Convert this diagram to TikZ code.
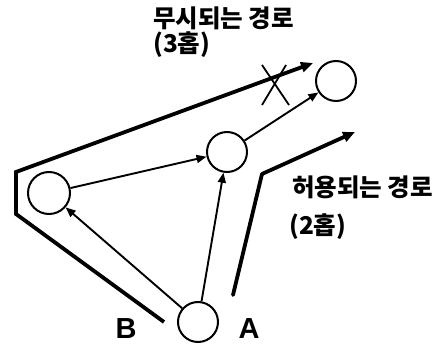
\documentclass[tikz,border=0pt]{standalone}
\usepackage{fontspec}
\setmainfont{Liberation Sans}
\newfontfamily\kr{Noto Sans CJK KR}
\usetikzlibrary{arrows.meta}
\begin{document}
\begin{tikzpicture}[x=1pt,y=-1pt,
  nd/.style={circle,draw,line width=2pt,minimum size=40pt,inner sep=0pt},
  thinarr/.style={line width=1.9pt,-{Triangle[length=10pt,width=8pt]}},
  thickarr/.style={line width=3.8pt,-{Triangle[length=12pt,width=10pt]}},
  lab/.style={font=\kr\bfseries\fontsize{24.5}{26}\selectfont,inner sep=0pt},
  letter/.style={font=\bfseries\fontsize{29}{30}\selectfont,inner sep=0pt}]
\useasboundingbox (0,0) rectangle (436,344);
\node[nd] (a) at (198,322) {};
\node[nd,minimum size=42pt] (l) at (49,193) {};
\node[nd] (m) at (227,152) {};
\node[nd] (t) at (336,81) {};
% thin arrows
\draw[thinarr] (a) -- (l);
\draw[thinarr] (a) -- (m);
\draw[thinarr] (l) -- (m);
\draw[thinarr] (m) -- (t);
% thick paths
\coordinate (b0) at (164,322);
\coordinate (b1) at (16,214);
\coordinate (b2) at (16,172);
\coordinate (b3) at (313,63);
\draw[thickarr,line join=miter] (b0) -- (b1) -- (b2) -- (b3);
\coordinate (a0) at (233,295);
\coordinate (a1) at (262,174);
\coordinate (a2) at (355,132);
\draw[thickarr,line join=round,line cap=round] (a0) -- (a1) -- (a2);
% X mark
\coordinate (x1) at (262,65);
\coordinate (x2) at (289,105);
\coordinate (x3) at (262,105);
\coordinate (x4) at (286,65);
\draw[line width=1.8pt] (x1) -- (x2);
\draw[line width=1.8pt] (x3) -- (x4);
% labels
\node[lab,anchor=west] (ig) at (153,18) {무시되는 경로};
\node[lab,anchor=west] (ig2) at (153,45) {(3홉)};
\node[lab,anchor=west] (ok) at (292,187) {허용되는 경로};
\node[lab,anchor=west] (ok2) at (289,227) {(2홉)};
\node[letter] (B) at (126,329) {B};
\node[letter] (A) at (249,329) {A};
\end{tikzpicture}
\end{document}
